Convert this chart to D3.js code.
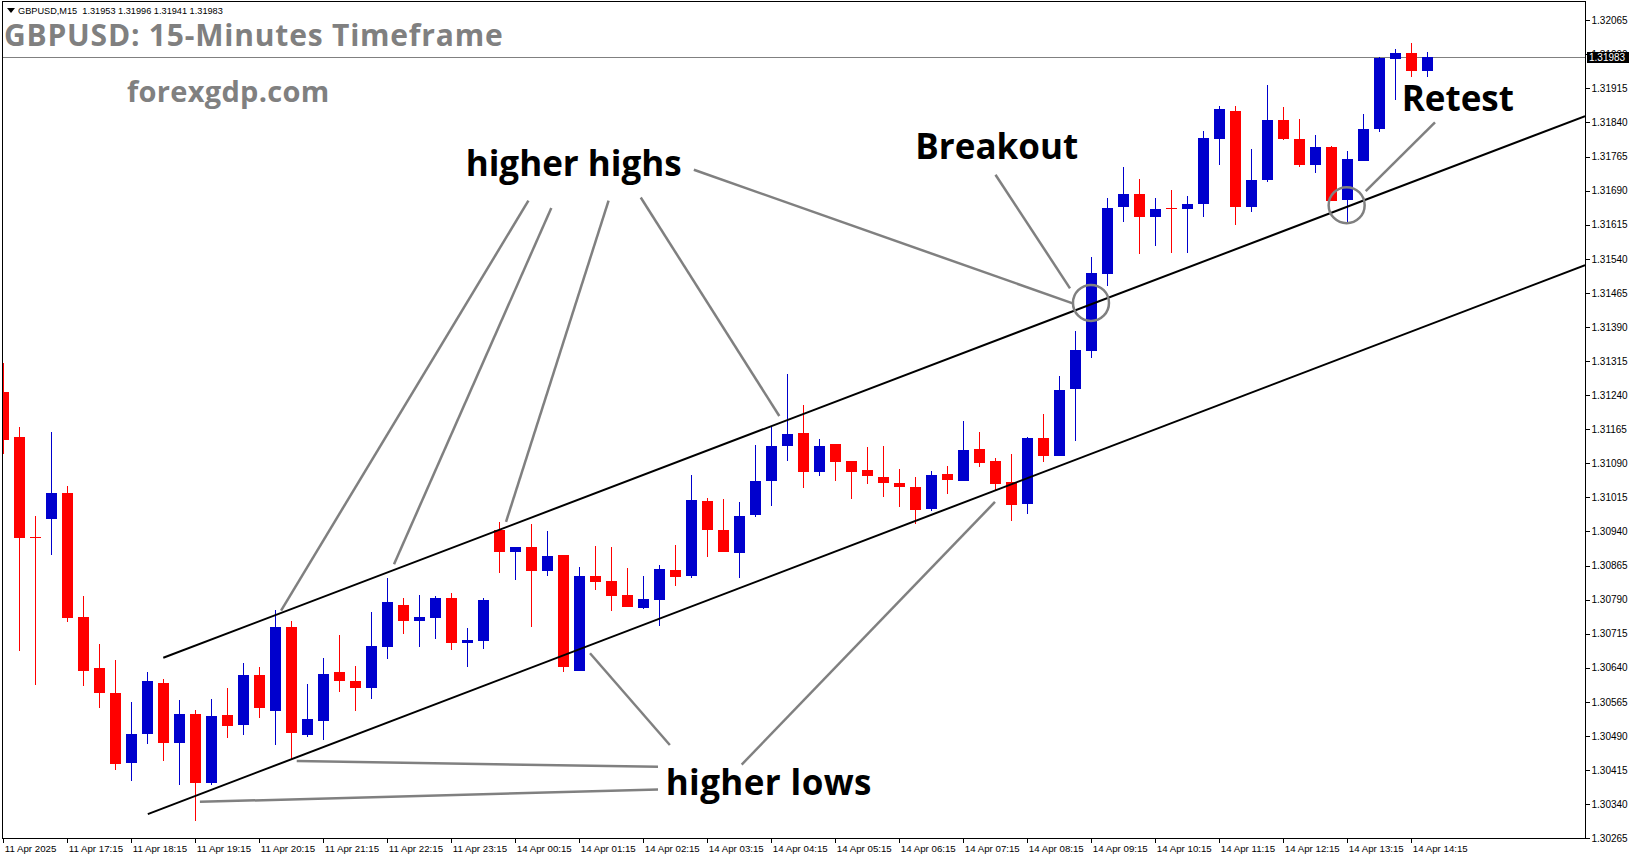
<!DOCTYPE html>
<html><head><meta charset="utf-8">
<script src="https://cdn.jsdelivr.net/npm/d3@7"></script>
<style>
html,body{margin:0;padding:0;background:#fff;overflow:hidden}
svg{display:block}
</style></head><body>
<svg id="chart" width="1631" height="861"></svg>
<script>
// ---------- data ----------
const opens = [1.31247,1.31147,1.30928,1.30968,1.31024,1.30752,1.30639,1.30584,1.30431,1.30495,
1.30607,1.30475,1.30538,1.30387,1.30536,1.30515,1.30624,1.30546,1.30730,1.30493,
1.30524,1.30631,1.30611,1.30596,1.30686,1.30778,1.30744,1.30750,1.30794,1.30695,
1.30700,1.30943,1.30895,1.30906,1.30854,1.30888,1.30634,1.30842,1.30831,1.30800,
1.30772,1.30790,1.30855,1.30843,1.31007,1.30943,1.30893,1.30977,1.31052,1.31127,
1.31157,1.31071,1.31132,1.31095,1.31075,1.31060,1.31047,1.31038,1.30989,1.31066,
1.31052,1.31121,1.31095,1.31049,1.31001,1.31146,1.31105,1.31254,1.31338,1.31507,
1.31655,1.31683,1.31633,1.31652,1.31650,1.31661,1.31804,1.31865,1.31655,1.31714,
1.31845,1.31804,1.31747,1.31786,1.31670,1.31756,1.31826,1.31980,1.31993,1.31953];
const highs = [1.31310,1.31169,1.30974,1.31159,1.31040,1.30798,1.30692,1.30657,1.30565,1.30631,
1.30615,1.30569,1.30547,1.30571,1.30595,1.30650,1.30642,1.30767,1.30743,1.30604,
1.30661,1.30712,1.30644,1.30763,1.30838,1.30794,1.30800,1.30798,1.30805,1.30728,
1.30794,1.30961,1.30906,1.30956,1.30941,1.30888,1.30862,1.30908,1.30906,1.30860,
1.30842,1.30866,1.30910,1.31064,1.31014,1.31011,1.31005,1.31130,1.31172,1.31286,
1.31218,1.31143,1.31132,1.31095,1.31126,1.31128,1.31077,1.31060,1.31073,1.31084,
1.31182,1.31159,1.31102,1.31110,1.31148,1.31199,1.31282,1.31381,1.31544,1.31674,
1.31742,1.31716,1.31674,1.31691,1.31678,1.31821,1.31876,1.31876,1.31782,1.31922,
1.31874,1.31848,1.31812,1.31788,1.31777,1.31859,1.31984,1.32002,1.32015,1.31996];
const lows = [1.31110,1.30678,1.30602,1.30888,1.30741,1.30601,1.30552,1.30414,1.30391,1.30472,
1.30435,1.30382,1.30303,1.30382,1.30486,1.30493,1.30530,1.30469,1.30440,1.30488,
1.30482,1.30587,1.30546,1.30572,1.30660,1.30715,1.30686,1.30704,1.30680,1.30642,
1.30682,1.30849,1.30834,1.30730,1.30843,1.30631,1.30632,1.30812,1.30766,1.30774,
1.30770,1.30733,1.30821,1.30838,1.30884,1.30895,1.30838,1.30972,1.30997,1.31096,
1.31036,1.31061,1.31050,1.31012,1.31045,1.31016,1.30994,1.30957,1.30986,1.31023,
1.31052,1.31082,1.31030,1.30964,1.30979,1.31093,1.31105,1.31138,1.31322,1.31481,
1.31622,1.31551,1.31569,1.31553,1.31553,1.31633,1.31747,1.31615,1.31644,1.31708,
1.31802,1.31743,1.31729,1.31668,1.31622,1.31756,1.31820,1.31890,1.31941,1.31941];
const closes = [1.31141,1.30926,1.30926,1.31024,1.30750,1.30634,1.30585,1.30429,1.30494,1.30611,
1.30475,1.30538,1.30387,1.30534,1.30513,1.30624,1.30552,1.30730,1.30497,1.30527,
1.30626,1.30612,1.30596,1.30688,1.30785,1.30744,1.30752,1.30794,1.30695,1.30701,
1.30789,1.30895,1.30906,1.30854,1.30886,1.30642,1.30842,1.30829,1.30799,1.30774,
1.30791,1.30857,1.30840,1.31009,1.30944,1.30895,1.30974,1.31051,1.31128,1.31155,
1.31071,1.31128,1.31093,1.31071,1.31061,1.31047,1.31038,1.30988,1.31064,1.31054,
1.31119,1.31091,1.31045,1.30999,1.31146,1.31105,1.31251,1.31339,1.31509,1.31652,
1.31683,1.31633,1.31650,1.31650,1.31661,1.31806,1.31870,1.31655,1.31713,1.31845,
1.31804,1.31747,1.31786,1.31668,1.31760,1.31826,1.31982,1.31993,1.31954,1.31983];

const tickBars = [0,4,8,12,16,20,24,28,32,36,40,44,48,52,56,60,64,68,72,76,80,84,88];
const tickLabels = ["11 Apr 2025","11 Apr 17:15","11 Apr 18:15","11 Apr 19:15","11 Apr 20:15",
"11 Apr 21:15","11 Apr 22:15","11 Apr 23:15","14 Apr 00:15","14 Apr 01:15","14 Apr 02:15",
"14 Apr 03:15","14 Apr 04:15","14 Apr 05:15","14 Apr 06:15","14 Apr 07:15","14 Apr 08:15",
"14 Apr 09:15","14 Apr 10:15","14 Apr 11:15","14 Apr 12:15","14 Apr 13:15","14 Apr 14:15"];
const priceTicks = [1.30265,1.30340,1.30415,1.30490,1.30565,1.30640,1.30715,1.30790,1.30865,
1.30940,1.31015,1.31090,1.31165,1.31240,1.31315,1.31390,1.31465,1.31540,1.31615,1.31690,
1.31765,1.31840,1.31915,1.31990,1.32065];
const lastPrice = 1.31983;
const headerText = "GBPUSD,M15  1.31953 1.31996 1.31941 1.31983";

// annotations in (bar index, price)
const channelUpper = [[10.0,1.30662],[98.86,1.31854]];
const channelLower = [[9.03,1.30318],[98.86,1.31526]];
const pointerLines = [
  [[32.82,1.31668],[17.36,1.30766]],
  [[34.25,1.31652],[24.42,1.30868]],
  [[37.83,1.31668],[31.42,1.30961]],
  [[39.84,1.31675],[48.50,1.31194]],
  [[43.16,1.31736],[66.84,1.31442]],
  [[62.01,1.31725],[66.67,1.31475]],
  [[89.48,1.31840],[85.15,1.31689]],
  [[36.67,1.30672],[41.66,1.30470]],
  [[61.98,1.31005],[46.15,1.30427]],
  [[18.34,1.30435],[40.92,1.30422]],
  [[12.29,1.30345],[40.92,1.30372]]
];
const circleMarks = [[67.98,1.31443],[83.96,1.31658]];
const noteTexts = ["higher highs","higher lows","Breakout","Retest"];
const noteBars = [28.90,41.40,57.0,87.4];
const notePrices = [1.31722,1.30360,1.31760,1.31865];

// ---------- layout ----------
const svg = d3.select("#chart");
const W = 1631, H = 861;
const plot = {left:3, right:1585, top:2, bottom:838};

const x = d3.scaleLinear().domain([0, 89]).range([3.3, 1427.3]);
const y = d3.scaleLinear().domain([1.30265, 1.31915]).range([838.2, 88.4]);

svg.append("rect").attr("width",W).attr("height",H).attr("fill","#fff");

svg.append("defs").append("clipPath").attr("id","plotClip")
  .append("rect").attr("x",plot.left).attr("y",plot.top)
  .attr("width",plot.right-plot.left).attr("height",plot.bottom-plot.top);

const g = svg.append("g").attr("clip-path","url(#plotClip)");

// last price line
g.append("line")
  .attr("x1",plot.left).attr("x2",plot.right)
  .attr("y1",Math.round(y(lastPrice))+0.5).attr("y2",Math.round(y(lastPrice))+0.5)
  .attr("stroke","#808080").attr("stroke-width",1);

// candles
const bars = d3.range(opens.length).map(i => ({i, o:opens[i], h:highs[i], l:lows[i], c:closes[i]}));
const colorOf = d => d.c >= d.o ? "#0000CD" : "#FF0000";
const cg = g.append("g");
cg.selectAll("rect.wick").data(bars).enter().append("rect")
  .attr("class","wick")
  .attr("x", d => Math.round(x(d.i)))
  .attr("width",1)
  .attr("y", d => Math.round(y(d.h)))
  .attr("height", d => Math.max(1, Math.round(y(d.l)) - Math.round(y(d.h))))
  .attr("fill", colorOf).attr("shape-rendering","crispEdges");
cg.selectAll("rect.body").data(bars).enter().append("rect")
  .attr("class","body")
  .attr("x", d => Math.round(x(d.i)) - 5)
  .attr("width",11)
  .attr("y", d => Math.round(y(Math.max(d.o,d.c))))
  .attr("height", d => Math.max(1, Math.round(y(Math.min(d.o,d.c))) - Math.round(y(Math.max(d.o,d.c)))))
  .attr("fill", colorOf).attr("shape-rendering","crispEdges");

// channel lines
const line = d3.line().x(d => x(d[0])).y(d => y(d[1]));
[channelUpper, channelLower].forEach(c => {
  g.append("path").attr("d", line(c)).attr("fill","none")
   .attr("stroke","#000").attr("stroke-width",2);
});

// pointer lines
g.selectAll("path.ptr").data(pointerLines).enter().append("path")
  .attr("class","ptr").attr("d", line).attr("fill","none")
  .attr("stroke","#808080").attr("stroke-width",2.5);

// circles
g.selectAll("circle.mark").data(circleMarks).enter().append("circle")
  .attr("cx", d => x(d[0])).attr("cy", d => y(d[1])).attr("r",18)
  .attr("fill","none").attr("stroke","#808080").attr("stroke-width",2.5);

// annotation texts
g.selectAll("text.note").data(noteTexts).enter().append("text")
  .attr("class","note")
  .attr("x",(d,i) => x(noteBars[i])).attr("y",(d,i) => y(notePrices[i]))
  .attr("font-family","'Open Sans', 'Noto Sans', sans-serif")
  .attr("font-weight","bold").attr("font-size",35).attr("fill","#000")
  .attr("letter-spacing",(d,i) => i === 1 ? 0.4 : 0)
  .text(d => d);

// title + watermark
svg.append("text").attr("x",4).attr("y",46)
  .attr("font-family","'Open Sans', 'Noto Sans', sans-serif").attr("font-weight","bold")
  .attr("font-size",30).attr("letter-spacing",0.8).attr("fill","#808080")
  .text("GBPUSD: 15-Minutes Timeframe");
svg.append("text").attr("x",127).attr("y",102)
  .attr("font-family","'Open Sans', 'Noto Sans', sans-serif").attr("font-weight","bold")
  .attr("font-size",29).attr("letter-spacing",0.3).attr("fill","#808080")
  .text("forexgdp.com");

// header
svg.append("path").attr("d","M7,8 L15,8 L11,13 Z").attr("fill","#000");
svg.append("text").attr("x",18).attr("y",13.5)
  .attr("font-family","'Liberation Sans', Arial, sans-serif").attr("font-size",9.2)
  .attr("fill","#000").attr("xml:space","preserve").style("white-space","pre")
  .text(headerText);

// frame
svg.append("rect").attr("x",plot.left-0.5).attr("y",plot.top-0.5)
  .attr("width",plot.right-plot.left+1).attr("height",plot.bottom-plot.top+1)
  .attr("fill","none").attr("stroke","#000").attr("stroke-width",1)
  .attr("shape-rendering","crispEdges");

// y axis
const yAxis = d3.axisRight(y).tickValues(priceTicks).tickFormat(d3.format(".5f"))
  .tickSize(4).tickPadding(2);
const ya = svg.append("g").attr("transform",`translate(${plot.right+0.5},0)`).call(yAxis);
ya.select(".domain").remove();
ya.selectAll("line").attr("stroke","#000").attr("shape-rendering","crispEdges");
ya.selectAll("text").attr("font-family","'Liberation Sans', Arial, sans-serif")
  .attr("font-size",10).attr("fill","#000");

// last price label
const lpY = y(lastPrice);
svg.append("rect").attr("x",plot.right+2).attr("y",Math.round(lpY)-5).attr("width",42).attr("height",11)
  .attr("fill","#000");
svg.append("text").attr("x",plot.right+4).attr("y",lpY).attr("dy","0.36em")
  .attr("font-family","'Liberation Sans', Arial, sans-serif").attr("font-size",10)
  .attr("fill","#fff").text(d3.format(".5f")(lastPrice));

// x axis
const xAxis = d3.axisBottom(x).tickValues(tickBars).tickFormat((d,i) => tickLabels[i])
  .tickSize(4).tickPadding(3);
const xa = svg.append("g").attr("transform",`translate(0,${plot.bottom+0.5})`).call(xAxis);
xa.select(".domain").remove();
xa.selectAll(".tick line").attr("stroke","#000").attr("shape-rendering","crispEdges");
xa.selectAll("text").attr("font-family","'Liberation Sans', Arial, sans-serif")
  .attr("font-size",9.7).attr("fill","#000").attr("text-anchor","start").attr("dx",1);
</script>
</body></html>
